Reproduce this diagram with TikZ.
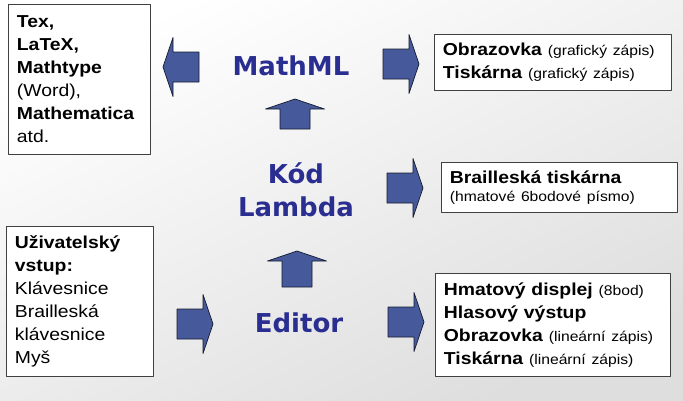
\documentclass[tikz,border=0pt]{standalone}
\usepackage{fontspec}
\setmainfont{Liberation Sans}[FakeStretch=1.12]
\newfontfamily\titlefont{DejaVu Sans}
\definecolor{titleblue}{RGB}{42,46,145}
\definecolor{arrowblue}{RGB}{69,89,155}
\newcommand\boxfont{\fontsize{17.3}{23}\selectfont}
\newcommand\notefont{\fontsize{14}{17}\selectfont}
\begin{document}
\begin{tikzpicture}[x=1pt,y=-1pt,line join=round,
	infobox/.style={draw=black!75,fill=white,line width=0.8pt,anchor=north west,
		align=left,inner xsep=8.5pt,inner ysep=0pt,font=\boxfont},
	layer/.style={text=titleblue,inner sep=0pt,
		font=\titlefont\bfseries\fontsize{26}{33}\selectfont},
	blockarrow/.style={draw=black!70!arrowblue,fill=arrowblue,line width=0.7pt}]
	\useasboundingbox (0,0) rectangle (683,400);
	\shade[top color=white,bottom color=black!13,shading angle=25] (0,0) rectangle (683,400);
	\node[infobox,text width=125pt,minimum height=150pt] (tools) at (8,4)
	{\textbf{Tex,}\\ \textbf{LaTeX,}\\ \textbf{Mathtype}\\ (Word),\\ \textbf{Mathematica}\\ atd.};
	\node[infobox,text width=220pt,minimum height=56pt] (screen) at (434,34)
	{\textbf{Obrazovka} {\notefont (grafický zápis)}\\ \textbf{Tiskárna} {\notefont (grafický zápis)}};
	\node[infobox,text width=219pt,minimum height=50pt] (braille) at (441,162)
	{\textbf{Brailleská tiskárna}\\[-4.7pt] {\notefont (hmatové 6bodové písmo)}};
	\node[infobox,text width=130pt,minimum height=150pt] (input) at (6,226)
	{\textbf{Uživatelský}\\ \textbf{vstup:}\\ Klávesnice\\ Brailleská\\ klávesnice\\ Myš};
	\node[infobox,text width=218pt,minimum height=103pt] (output) at (435,273)
	{\textbf{Hmatový displej} {\notefont (8bod)}\\ \textbf{Hlasový výstup}\\
		\textbf{Obrazovka} {\notefont (lineární zápis)}\\ \textbf{Tiskárna} {\notefont (lineární zápis)}};
	\node[layer,anchor=base] (mathml) at (291,75.7) {MathML};
	\node[layer,align=center] (lambda) at (296,190) {Kód\\Lambda};
	\node[layer,anchor=base] (editor) at (299,332.7) {Editor};
	\foreach \x/\y/\ang/\len in {199/67/180/36,383/64/0/36,387/188/0/36,177/324/0/36,
		388/322/0/36,295/129/90/30,297/287/90/36}
	{\draw[blockarrow,shift={(\x,\y)},rotate=\ang] (0,-15) -- (\len-10,-15) -- (\len-10,-29.5)
		-- (\len,0) -- (\len-10,29.5) -- (\len-10,15) -- (0,15) -- cycle;}
\end{tikzpicture}
\end{document}
